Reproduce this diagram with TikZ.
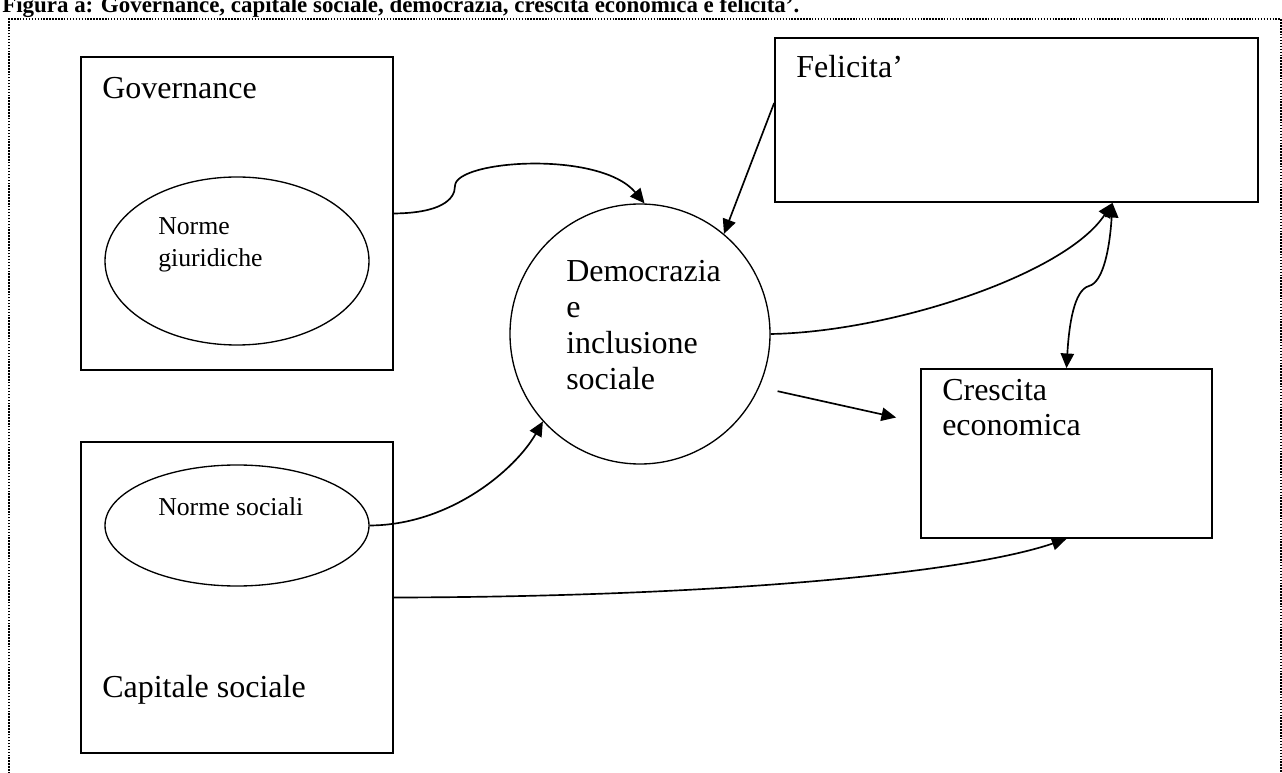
\documentclass[tikz,border=0pt]{standalone}
\usepackage{fontspec}
\setmainfont{Liberation Serif}
\usetikzlibrary{arrows.meta,calc,positioning,shapes.geometric}
\tikzset{
    box/.style={draw, rectangle, line width=1.3pt, inner sep=0pt},
    oval/.style={draw, ellipse, line width=1pt, inner sep=0pt},
    bigtxt/.style={font=\fontsize{24}{27}\selectfont, inner sep=0pt, align=left, anchor=base west},
    smalltxt/.style={font=\fontsize{19.3}{24.5}\selectfont, inner sep=0pt, align=left, anchor=base west},
    arr/.style={line width=1.25pt, -{Triangle[length=11pt,width=10pt]}},
    dblarr/.style={line width=1.25pt, {Triangle[length=11pt,width=10pt]}-{Triangle[length=11pt,width=10pt]}},
}

\begin{document}
\begin{tikzpicture}[x=0.75pt, y=-0.75pt]
    \useasboundingbox (0,0) rectangle (1282,773);
    %frame and title
    \draw[line width=0.8pt, dash pattern=on 1.1pt off 1.1pt] (9,800) -- (9,19) -- (1281,19) -- (1281,800);
    \node[anchor=base west, inner sep=0pt, font=\bfseries\fontsize{17.2}{20}\selectfont] (title) at (2,13)
        {Figura a: Governance, capitale sociale, democrazia, crescita economica e felicita’.};
    %left boxes (multi-line labels sit on their last baseline)
    \node[box, minimum width=312*0.75pt, minimum height=313*0.75pt] (gov) at (237,213.5) {};
    \node[oval, minimum width=264*0.75pt, minimum height=168*0.75pt] (giur) at (237,261) {};
    \node[bigtxt] (govlbl) at (102,99) {Governance};
    \node[smalltxt] (giurlbl) at (158,267) {Norme\\giuridiche};
    \node[box, minimum width=312*0.75pt, minimum height=311*0.75pt] (cap) at (237,597.5) {};
    \node[oval, minimum width=264*0.75pt, minimum height=121*0.75pt] (soc) at (237,525.5) {};
    \node[smalltxt] (soclbl) at (158,516) {Norme sociali};
    \node[bigtxt] (caplbl) at (102,697) {Capitale sociale};
    %centre and right
    \node[draw, circle, line width=1pt, minimum size=260*0.75pt, inner sep=0pt] (dem) at (640,334) {};
    \node[bigtxt] (demlbl) at (566,390) {Democrazia\\e\\inclusione\\sociale};
    \node[box, minimum width=483*0.75pt, minimum height=164*0.75pt] (feli) at (1016.5,120) {};
    \node[bigtxt] (felilbl) at (796,78) {Felicita’};
    \node[box, minimum width=291*0.75pt, minimum height=169*0.75pt] (cres) at (1066.5,453.5) {};
    \node[bigtxt] (creslbl) at (942,436) {Crescita\\economica};
    %connectors
    \draw[arr] (gov.east) .. controls (440,213) and (455,200) .. (455,186)
        .. controls (455,160) and (600,150) .. (dem.88);
    \draw[arr] ($(feli.west)+(0,-17)$) -- (dem.50);
    \draw[arr] (dem.east) .. controls (890,332) and (1065,275) .. ($(feli.south)+(96,0)$);
    \draw[dblarr] (cres.north) .. controls (1069,325) and (1074,290) .. (1089,286)
        .. controls (1104,282) and (1110,245) .. ($(feli.south)+(96,0)$);
    \draw[arr, shorten <=14pt] (dem.-24) -- ($(cres.west)+(-24,-36)$);
    \draw[arr] (soc.east) .. controls (450,525) and (515,470) .. (dem.222);
    \draw[arr] (cap.east) .. controls (700,597) and (960,575) .. (cres.south);
\end{tikzpicture}
\end{document}
